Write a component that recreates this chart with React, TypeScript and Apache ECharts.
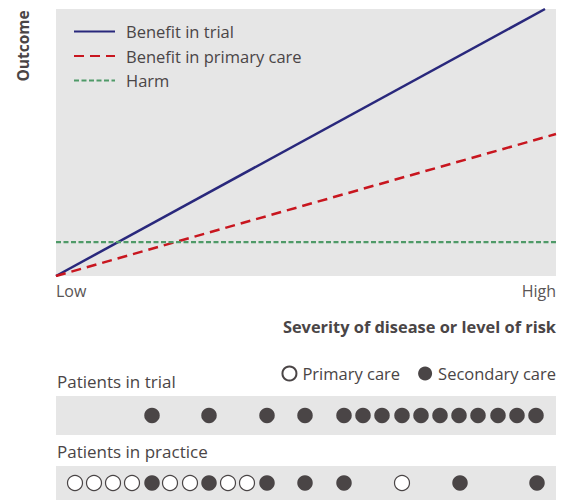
import React, { useEffect, useRef } from "react";
import * as echarts from "echarts";

// Lines (x: severity 0-100, y: outcome 0-100)
const trialBenefit: number[][] = [[0, 0], [97.8, 100]];
const primaryBenefit: number[][] = [[0, 0], [100, 53.2]];
const harm: number[][] = [[0, 12.7], [100, 12.7]];
const axisTickLabels = ["Low", "High"];

// Patients (x: severity position)
const trialSecondary: number[] = [19.2, 30.6, 42.2, 49.8, 57.6, 61.4, 65.2, 69.2, 73, 76.8, 80.6, 84.4, 88.4, 92.2, 96];
const practicePrimary: number[] = [3.8, 7.6, 11.4, 15.2, 22.8, 26.8, 34.4, 38.2, 69.2];
const practiceSecondary: number[] = [19.2, 30.6, 42.2, 49.8, 57.6, 80.8, 96.2];

const TEXT = "#4a4546";
const DOT = "#4a4546";
const BG = "#e6e6e6";
const FONT = "Open Sans";

export default function App() {
  const ref = useRef<HTMLDivElement>(null);
  useEffect(() => {
    if (!ref.current) return;
    const chart = echarts.init(ref.current, null, { renderer: "svg" });
    const gridBase = { left: 56, width: 500, show: true, backgroundColor: BG, borderWidth: 0 };
    const hiddenX = (gi: number) => ({
      type: "value", gridIndex: gi, min: 0, max: 100,
      axisLine: { show: false }, axisTick: { show: false }, axisLabel: { show: false }, splitLine: { show: false },
    });
    const hiddenY = (gi: number) => ({
      type: "value", gridIndex: gi, min: -1, max: 1,
      axisLine: { show: false }, axisTick: { show: false }, axisLabel: { show: false }, splitLine: { show: false },
    });
    chart.setOption({
      animation: false,
      textStyle: { fontFamily: FONT, color: TEXT },
      grid: [
        { ...gridBase, top: 9, height: 267 },
        { ...gridBase, top: 396, height: 39 },
        { ...gridBase, top: 466, height: 34 },
      ],
      xAxis: [
        {
          type: "value", gridIndex: 0, min: 0, max: 100, interval: 100,
          axisLine: { show: false }, axisTick: { show: false }, splitLine: { show: false },
          axisLabel: {
            show: true, margin: 7, fontSize: 16, color: "#5a5556", fontFamily: FONT,
            alignMinLabel: "left", alignMaxLabel: "right",
            formatter: (v: number) => (v === 0 ? axisTickLabels[0] : axisTickLabels[1]),
          },
          name: "Severity of disease or level of risk",
          nameLocation: "end", nameGap: 0,
          nameTextStyle: {
            fontSize: 16.4, fontWeight: "bold", color: TEXT, fontFamily: FONT,
            align: "right", verticalAlign: "top", padding: [42, 0, 0, 0],
          },
        },
        hiddenX(1),
        hiddenX(2),
      ],
      yAxis: [
        {
          type: "value", gridIndex: 0, min: 0, max: 100,
          axisLine: { show: false }, axisTick: { show: false }, axisLabel: { show: false }, splitLine: { show: false },
        },
        hiddenY(1),
        hiddenY(2),
      ],
      legend: [
        {
          data: ["Benefit in trial", "Benefit in primary care", "Harm"],
          orient: "vertical", left: 73, top: 23, padding: 0, itemWidth: 41, itemHeight: 14, itemGap: 7.5,
          itemStyle: { opacity: 0 },
          textStyle: { fontSize: 16.5, color: TEXT, fontFamily: FONT, padding: [0, 0, 0, 6], lineHeight: 16 },
        },
        {
          data: ["Primary care", "Secondary care"],
          orient: "horizontal", right: 14, top: 365, padding: 0, itemWidth: 14, itemHeight: 14, itemGap: 18,
          icon: "circle",
          itemStyle: { opacity: 1 },
          textStyle: { fontSize: 16.5, color: TEXT, fontFamily: FONT, padding: [0, 0, 0, 1] },
        },
      ],
      graphic: [
        {
          type: "text", x: 23, y: 46, rotation: Math.PI / 2,
          style: { text: "Outcome", fill: TEXT, font: `bold 15.5px '${FONT}'`, align: "center", verticalAlign: "middle" },
        },
        {
          type: "text", x: 57, y: 381,
          style: { text: "Patients in trial", fill: TEXT, font: `17px '${FONT}'`, align: "left", verticalAlign: "middle" },
        },
        {
          type: "text", x: 57, y: 451,
          style: { text: "Patients in practice", fill: TEXT, font: `17px '${FONT}'`, align: "left", verticalAlign: "middle" },
        },
      ],
      series: [
        {
          name: "Benefit in trial", type: "line", xAxisIndex: 0, yAxisIndex: 0, data: trialBenefit,
          symbol: "none", color: "#29287c", lineStyle: { width: 2.5, color: "#29287c" },
        },
        {
          name: "Benefit in primary care", type: "line", xAxisIndex: 0, yAxisIndex: 0, data: primaryBenefit,
          symbol: "none", color: "#c8161f",
          lineStyle: { width: 2.5, color: "#c8161f", type: [10, 6] },
        },
        {
          name: "Harm", type: "line", xAxisIndex: 0, yAxisIndex: 0, data: harm,
          symbol: "none", color: "#4f9a68",
          lineStyle: { width: 2.2, color: "#4f9a68", type: [5, 2.5] },
        },
        {
          name: "Secondary care", type: "scatter", xAxisIndex: 1, yAxisIndex: 1,
          data: trialSecondary.map((x) => [x, 0]), symbolSize: 15.5,
          itemStyle: { color: DOT, opacity: 1 },
        },
        {
          name: "Primary care", type: "scatter", xAxisIndex: 2, yAxisIndex: 2,
          data: practicePrimary.map((x) => [x, 0]), symbolSize: 15,
          itemStyle: { color: "#ffffff", borderColor: DOT, borderWidth: 1.2, opacity: 1 },
        },
        {
          name: "Secondary care", type: "scatter", xAxisIndex: 2, yAxisIndex: 2,
          data: practiceSecondary.map((x) => [x, 0]), symbolSize: 15.5,
          itemStyle: { color: DOT, opacity: 1 },
        },
      ],
    });
    return () => chart.dispose();
  }, []);
  return <div ref={ref} style={{ position: "absolute", left: 0, top: 0, width: 570, height: 500 }} />;
}
